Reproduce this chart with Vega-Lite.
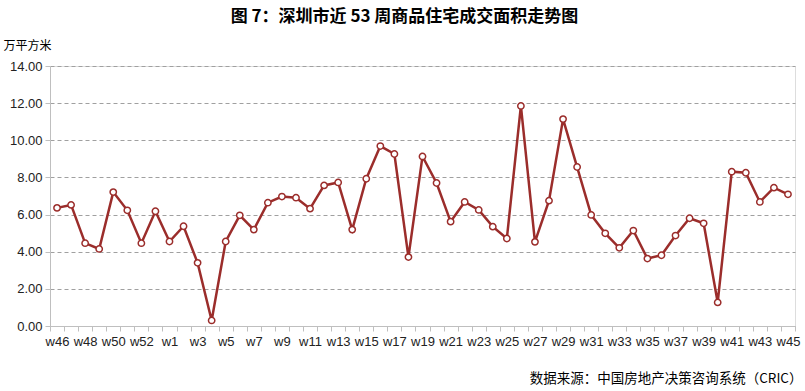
{
  "$schema": "https://vega.github.io/schema/vega-lite/v6.json",
  "width": 745,
  "height": 260,
  "autosize": {"type": "none"},
  "padding": {"left": 50, "top": 66, "right": 10, "bottom": 65},
  "background": "white",
  "title": {
    "text": "图 7：深圳市近 53 周商品住宅成交面积走势图",
    "font": "Noto Sans CJK SC",
    "fontSize": 17,
    "fontWeight": "bold",
    "color": "#000000",
    "anchor": "middle",
    "frame": "group",
    "dx": -18,
    "offset": 13
  },
  "data": {
    "values": [
      {"week": "w46", "area": 6.36},
      {"week": "w47", "area": 6.52},
      {"week": "w48", "area": 4.46},
      {"week": "w49", "area": 4.15},
      {"week": "w50", "area": 7.21},
      {"week": "w51", "area": 6.23},
      {"week": "w52", "area": 4.46},
      {"week": "w53", "area": 6.18},
      {"week": "w1", "area": 4.55},
      {"week": "w2", "area": 5.37},
      {"week": "w3", "area": 3.40},
      {"week": "w4", "area": 0.30},
      {"week": "w5", "area": 4.55},
      {"week": "w6", "area": 5.96},
      {"week": "w7", "area": 5.19},
      {"week": "w8", "area": 6.64},
      {"week": "w9", "area": 6.97},
      {"week": "w10", "area": 6.91},
      {"week": "w11", "area": 6.32},
      {"week": "w12", "area": 7.57},
      {"week": "w13", "area": 7.73},
      {"week": "w14", "area": 5.19},
      {"week": "w15", "area": 7.93},
      {"week": "w16", "area": 9.69},
      {"week": "w17", "area": 9.26},
      {"week": "w18", "area": 3.71},
      {"week": "w19", "area": 9.13},
      {"week": "w20", "area": 7.70},
      {"week": "w21", "area": 5.62},
      {"week": "w22", "area": 6.68},
      {"week": "w23", "area": 6.25},
      {"week": "w24", "area": 5.35},
      {"week": "w25", "area": 4.71},
      {"week": "w26", "area": 11.85},
      {"week": "w27", "area": 4.53},
      {"week": "w28", "area": 6.75},
      {"week": "w29", "area": 11.14},
      {"week": "w30", "area": 8.56},
      {"week": "w31", "area": 5.98},
      {"week": "w32", "area": 4.99},
      {"week": "w33", "area": 4.21},
      {"week": "w34", "area": 5.14},
      {"week": "w35", "area": 3.63},
      {"week": "w36", "area": 3.81},
      {"week": "w37", "area": 4.87},
      {"week": "w38", "area": 5.80},
      {"week": "w39", "area": 5.53},
      {"week": "w40", "area": 1.27},
      {"week": "w41", "area": 8.31},
      {"week": "w42", "area": 8.25},
      {"week": "w43", "area": 6.68},
      {"week": "w44", "area": 7.45},
      {"week": "w45", "area": 7.09}
    ]
  },
  "encoding": {
    "x": {
      "field": "week",
      "type": "ordinal",
      "sort": null,
      "scale": {"type": "band", "paddingInner": 0, "paddingOuter": 0},
      "axis": {
        "title": "数据来源：中国房地产决策咨询系统（CRIC）",
        "titleFont": "Noto Sans CJK SC",
        "titleFontSize": 13.5,
        "titleFontWeight": "normal",
        "titleColor": "#000000",
        "titleAnchor": "end",
        "titleAlign": "right",
        "titleBaseline": "middle",
        "titleX": 752,
        "titleY": 52,
        "labelAngle": 0,
        "labelFont": "Liberation Sans",
        "labelFontSize": 13,
        "labelColor": "#222222",
        "labelPadding": 4,
        "labelOverlap": false,
        "labelExpr": "indexof('|w46|w48|w50|w52|w1|w3|w5|w7|w9|w11|w13|w15|w17|w19|w21|w23|w25|w27|w29|w31|w33|w35|w37|w39|w41|w43|w45|', '|' + datum.label + '|') >= 0 ? datum.label : ''",
        "tickBand": "extent",
        "tickSize": 5,
        "tickColor": "#bfbfbf",
        "domainColor": "#bfbfbf",
        "domainWidth": 1,
        "grid": false
      }
    },
    "y": {
      "field": "area",
      "type": "quantitative",
      "scale": {"domain": [0, 14], "nice": false},
      "axis": {
        "title": "万平方米",
        "titleFont": "Noto Sans CJK SC",
        "titleFontSize": 12,
        "titleFontWeight": "normal",
        "titleColor": "#000000",
        "titleAngle": 0,
        "titleAlign": "left",
        "titleBaseline": "middle",
        "titleX": -47,
        "titleY": -21,
        "values": [0, 2, 4, 6, 8, 10, 12, 14],
        "format": ".2f",
        "labelFont": "Liberation Sans",
        "labelFontSize": 13,
        "labelColor": "#222222",
        "labelPadding": 3,
        "tickSize": 5,
        "tickColor": "#bfbfbf",
        "domainColor": "#bfbfbf",
        "grid": true,
        "gridColor": "#a0a0a0",
        "gridDash": [4, 3],
        "gridWidth": 1
      }
    }
  },
  "layer": [
    {
      "mark": {"type": "line", "color": "#9b2d2b", "strokeWidth": 2.5}
    },
    {
      "mark": {"type": "point", "filled": true, "fill": "white", "stroke": "#9b2d2b", "strokeWidth": 1.5, "size": 40, "opacity": 1}
    }
  ]
}
